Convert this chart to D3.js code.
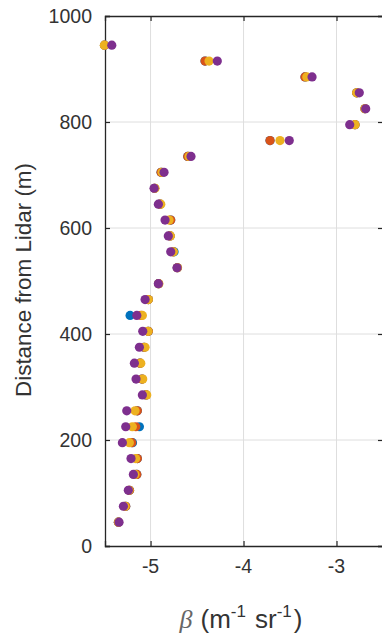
<!DOCTYPE html>
<html>
<head>
<meta charset="utf-8">
<script src="https://cdn.jsdelivr.net/npm/d3@7"></script>
<style>
  html, body { margin: 0; padding: 0; background: #fff; }
  svg { display: block; }
  text { font-family: "Liberation Sans", Arial, Helvetica, sans-serif; }
</style>
</head>
<body>
<svg id="chart" width="382" height="636"></svg>
<script>
// Range bins (m) from the lidar, bottom to top
const depths = [45, 75, 105, 135, 165, 195, 225, 255, 285, 315, 345, 375, 405, 435, 465,
                495, 525, 555, 585, 615, 645, 675, 705, 735, 765, 795, 825, 855, 885, 915, 945];

// Backscatter (log10) for four profiles, one value per range bin
const profileA = [-5.346, -5.267, -5.226, -5.148, -5.142, -5.194, -5.120, -5.142, -5.048, -5.091,
                  -5.113, -5.070, -5.024, -5.220, -5.024, -4.914, -4.712, -4.747, -4.790, -4.783,
                  -4.898, -4.957, -4.887, -4.600, -3.715, -2.801, -2.694, -2.783, -3.339, -4.414, -5.495];
const profileB = [-5.346, -5.267, -5.226, -5.148, -5.142, -5.202, -5.159, -5.142, -5.048, -5.091,
                  -5.113, -5.070, -5.024, -5.102, -5.024, -4.914, -4.712, -4.758, -4.790, -4.783,
                  -4.898, -4.957, -4.887, -4.600, -3.715, -2.801, -2.694, -2.783, -3.339, -4.414, -5.495];
const profileC = [-5.344, -5.274, -5.231, -5.167, -5.161, -5.228, -5.196, -5.167, -5.041, -5.084,
                  -5.105, -5.059, -5.027, -5.088, -5.024, -4.911, -4.710, -4.755, -4.787, -4.801,
                  -4.890, -4.952, -4.876, -4.586, -3.608, -2.801, -2.694, -2.783, -3.320, -4.371, -5.497];
const profileD = [-5.339, -5.292, -5.239, -5.185, -5.210, -5.303, -5.267, -5.256, -5.088, -5.156,
                  -5.174, -5.120, -5.084, -5.148, -5.059, -4.916, -4.715, -4.783, -4.809, -4.844,
                  -4.916, -4.962, -4.855, -4.565, -3.508, -2.858, -2.686, -2.755, -3.263, -4.282, -5.417];

const seriesColors = ["#0072BD", "#D95319", "#EDB120", "#7E2F8E"];
const xTicks = [-5, -4, -3];
const yTicks = [0, 200, 400, 600, 800, 1000];

const svg = d3.select("#chart");
const plotLeft = 105, plotRight = 383, plotTop = 16, plotBottom = 546;

const x = d3.scaleLinear().domain([-5.49, -2.5]).range([plotLeft, plotRight]);
const y = d3.scaleLinear().domain([0, 1000]).range([plotBottom, plotTop]);

const axisColor = "#262626";
const labelColor = "#333333";
const gridColor = "#dedede";

// grid
const grid = svg.append("g");
grid.selectAll("line.gx").data(xTicks).join("line")
  .attr("x1", d => x(d)).attr("x2", d => x(d))
  .attr("y1", plotTop).attr("y2", plotBottom)
  .attr("stroke", gridColor).attr("stroke-width", 1);
grid.selectAll("line.gy").data(yTicks.filter(d => d > 0 && d < 1000)).join("line")
  .attr("x1", plotLeft).attr("x2", plotRight)
  .attr("y1", d => y(d)).attr("y2", d => y(d))
  .attr("stroke", gridColor).attr("stroke-width", 1);

// axes (ticks inward, labels drawn separately)
const xAxis = d3.axisBottom(x).tickValues(xTicks).tickSize(-5).tickFormat("");
const xAxisTop = d3.axisTop(x).tickValues(xTicks).tickSize(-5).tickFormat("");
const yAxis = d3.axisLeft(y).tickValues(yTicks).tickSize(-5).tickFormat("");
const yAxisRight = d3.axisRight(y).tickValues(yTicks).tickSize(-5).tickFormat("");

function styleAxis(g) {
  g.select(".domain").attr("stroke", axisColor).attr("stroke-width", 1.3);
  g.selectAll(".tick line").attr("stroke", axisColor).attr("stroke-width", 1.2);
}
svg.append("g").attr("transform", `translate(0,${plotBottom})`).call(xAxis).call(styleAxis);
svg.append("g").attr("transform", `translate(0,${plotTop})`).call(xAxisTop).call(styleAxis);
svg.append("g").attr("transform", `translate(${plotLeft},0)`).call(yAxis).call(styleAxis);
svg.append("g").attr("transform", `translate(${plotRight},0)`).call(yAxisRight).call(styleAxis);

// tick labels
svg.append("g").selectAll("text").data(xTicks).join("text")
  .attr("x", d => x(d)).attr("y", 573)
  .attr("text-anchor", "middle")
  .attr("font-size", 19.5).attr("fill", labelColor)
  .text(d => String(d));
svg.append("g").selectAll("text").data(yTicks).join("text")
  .attr("x", 92).attr("y", d => y(d) + 7)
  .attr("text-anchor", "end")
  .attr("font-size", 19.5).attr("fill", labelColor)
  .text(d => d);

// axis titles
svg.append("text")
  .attr("transform", "translate(31,280) rotate(-90)")
  .attr("text-anchor", "middle")
  .attr("font-size", 22.4).attr("fill", labelColor)
  .text("Distance from Lidar (m)");

const xt = svg.append("text")
  .attr("x", 241).attr("y", 628)
  .attr("text-anchor", "middle")
  .attr("font-size", 26).attr("fill", labelColor);
xt.append("tspan").attr("font-family", "'Liberation Serif', serif").attr("font-style", "italic").attr("fill", "#666").text("β");
xt.append("tspan").attr("dx", 8).text("(m");
xt.append("tspan").attr("font-size", 17).attr("dy", -11).text("-1");
xt.append("tspan").attr("dy", 11).attr("dx", 9).text("sr");
xt.append("tspan").attr("font-size", 17).attr("dy", -11).text("-1");
xt.append("tspan").attr("dy", 11).attr("dx", 2).text(")");

// markers, drawn in series order so the last profile sits on top
const profiles = [profileA, profileB, profileC, profileD];
profiles.forEach((vals, i) => {
  svg.append("g").selectAll("circle").data(vals).join("circle")
    .attr("cx", d => x(d))
    .attr("cy", (d, j) => y(depths[j]))
    .attr("r", 4.6)
    .attr("fill", seriesColors[i]);
});
</script>
</body>
</html>
